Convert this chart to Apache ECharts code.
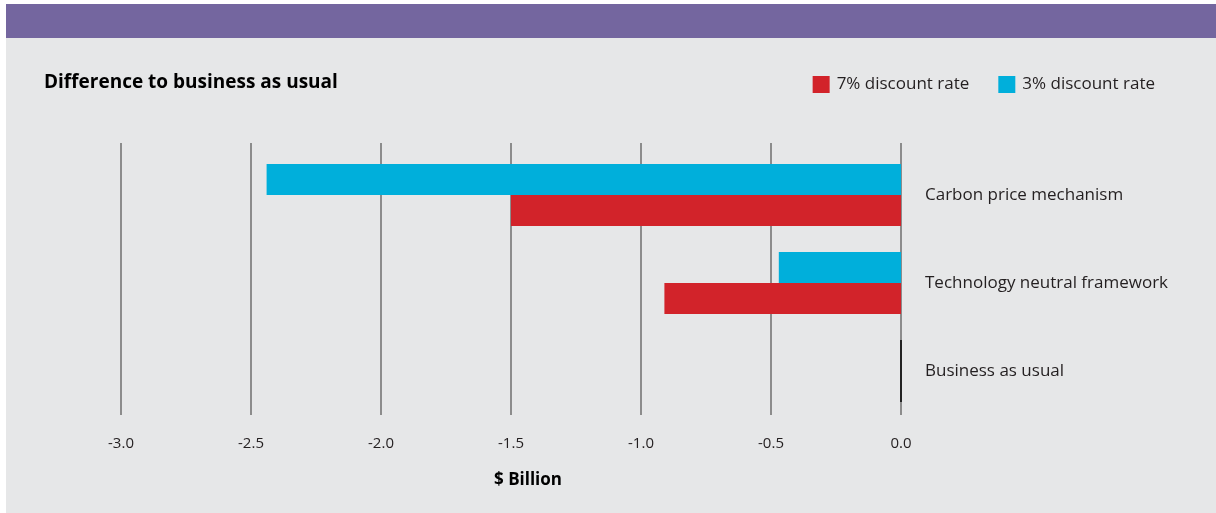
<!DOCTYPE html>
<html>
<head>
<meta charset="utf-8">
<script src="https://cdn.jsdelivr.net/npm/echarts@6/dist/echarts.min.js"></script>
<style>
html,body{margin:0;padding:0;background:#fff;}
#chart{width:1216px;height:513px;}
</style>
</head>
<body>
<div id="chart"></div>
<script>
// Data
const categories = ['Business as usual', 'Technology neutral framework', 'Carbon price mechanism'];
const rate7 = [0, -0.91, -1.5];
const rate3 = [0, -0.47, -2.44];
const seriesNames = ['7% discount rate', '3% discount rate'];
const xTicks = [-3.0, -2.5, -2.0, -1.5, -1.0, -0.5, 0.0];

const FONT = '"Open Sans", "Noto Sans", sans-serif';
const TXT = '#231f20';

function withZeroBorder(arr) {
  return arr.map(v => v === 0
    ? { value: v, itemStyle: { borderColor: '#000', borderWidth: 1 } }
    : v);
}

const chart = echarts.init(document.getElementById('chart'), null, { renderer: 'canvas' });
chart.setOption({
  animation: false,
  backgroundColor: '#ffffff',
  textStyle: { fontFamily: FONT },
  graphic: [
    { type: 'rect', z: -10, shape: { x: 6, y: 4, width: 1210, height: 509 }, style: { fill: '#e6e7e8' }, silent: true },
    { type: 'rect', z: -9, shape: { x: 6, y: 4, width: 1210, height: 34 }, style: { fill: '#74669f' }, silent: true },
    { type: 'text', left: 44, top: 73, style: { text: 'Difference to business as usual', font: 'bold 19px ' + FONT, fill: '#000' } },
    { type: 'text', left: 494, top: 472, style: { text: '$ Billion', font: 'bold 17px ' + FONT, fill: '#000' } }
  ],
  legend: {
    data: seriesNames,
    right: 56,
    top: 71,
    itemWidth: 17,
    itemHeight: 17,
    itemGap: 29,
    icon: 'rect',
    textStyle: { fontFamily: FONT, fontSize: 17, color: TXT, padding: [0, 0, 0, 2] }
  },
  grid: [
    { left: 121, right: 315, top: 151, bottom: 98 },
    { left: 121, right: 315, top: 143, bottom: 98 }
  ],
  xAxis: [
    {
      gridIndex: 0, type: 'value', min: -3, max: 0, interval: 0.5,
      axisLine: { show: false }, axisTick: { show: false }, splitLine: { show: false },
      axisLabel: { show: false }
    },
    {
      gridIndex: 1, type: 'value', min: xTicks[0], max: xTicks[xTicks.length - 1], interval: 0.5,
      axisLine: { show: false }, axisTick: { show: false },
      splitLine: { show: true, lineStyle: { color: '#8c8c8c', width: 2 } },
      axisLabel: { margin: 21, fontSize: 15, color: TXT, fontFamily: FONT, formatter: v => v.toFixed(1) }
    }
  ],
  yAxis: [
    {
      gridIndex: 0, type: 'category', data: categories, position: 'right',
      axisLine: { show: false }, axisTick: { show: false },
      axisLabel: { margin: 24, align: 'left', fontSize: 17, color: TXT, fontFamily: FONT }
    },
    {
      gridIndex: 1, type: 'category', data: categories, show: false
    }
  ],
  series: [
    {
      name: seriesNames[1], type: 'bar', xAxisIndex: 0, yAxisIndex: 0,
      data: withZeroBorder(rate3), barWidth: 31, barGap: '0%',
      itemStyle: { color: '#00afdb' }, z: 5
    },
    {
      name: seriesNames[0], type: 'bar', xAxisIndex: 0, yAxisIndex: 0,
      data: withZeroBorder(rate7), barWidth: 31, barGap: '0%',
      itemStyle: { color: '#d2232a' }, z: 5
    }
  ]
});
</script>
</body>
</html>
